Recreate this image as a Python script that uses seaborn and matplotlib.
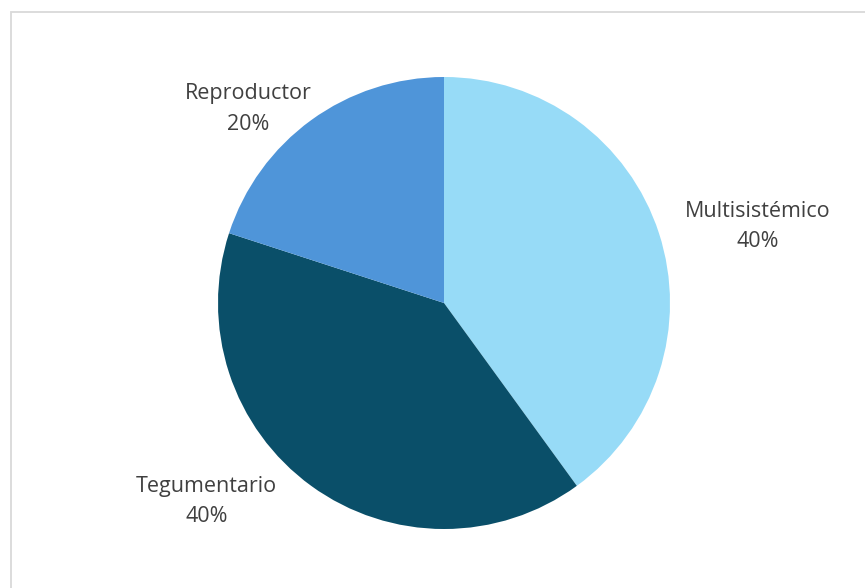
import numpy as np
import seaborn as sns
import matplotlib.pyplot as plt
from matplotlib.patches import Rectangle

#categories and shares
categories = ['Multisistémico', 'Tegumentario', 'Reproductor']
shares = [40, 40, 20]
pct_labels = ['40%', '40%', '20%']

#colours of the slices
colors = ['#97DBF7', '#0A4F69', '#4F95D9']

#label placement (angle in degrees, distance in radii) around the pie
label_pos = [(13.7, 1.43), (-140.1, 1.37), (135.2, 1.22)]

sns.set_theme(style='white')
plt.rcParams['font.family'] = ['Open Sans', 'DejaVu Sans']

fig = plt.figure(figsize=(8.65, 5.88), dpi=100)
ax = fig.add_axes([0, 0, 1, 1])

#chart area border
fig.patches.append(Rectangle((11 / 865, -0.1), 1.2, 1 - 12 / 588 + 0.1,
                             transform=fig.transFigure, fill=False,
                             edgecolor='#D9D9D9', linewidth=1.3))

cx, cy, r = 444, 588 - 303, 226
ax.pie(shares, colors=colors, startangle=90, counterclock=False,
       center=(cx, cy), radius=r, frame=True,
       wedgeprops={'linewidth': 0})
ax.set_xlim(0, 865)
ax.set_ylim(0, 588)
ax.set_axis_off()

#category and percent labels
for name, pct, (ang, dist) in zip(categories, pct_labels, label_pos):
    x = cx + dist * r * np.cos(np.radians(ang))
    y = cy + dist * r * np.sin(np.radians(ang))
    ax.text(x, y, f'{name}\n{pct}', ha='center', va='center',
            fontsize=15.5, color='#404040', linespacing=1.6)

plt.savefig('out.png', dpi=100)
